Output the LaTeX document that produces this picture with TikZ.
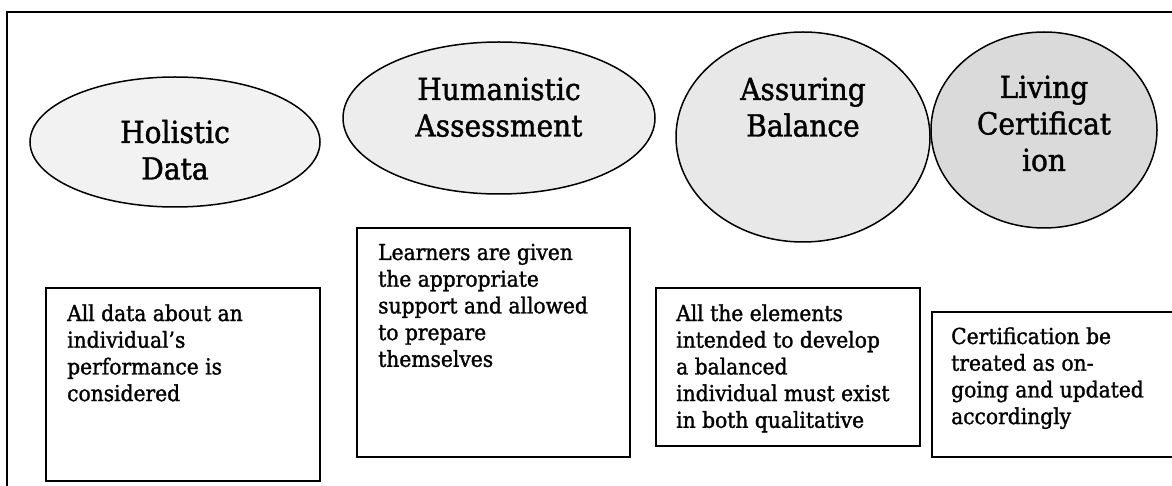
\documentclass[tikz,border=0pt]{standalone}
\usepackage{fontspec}
\setmainfont{DejaVu Serif}[FakeStretch=0.92, FakeBold=1.3]
\usetikzlibrary{shapes.geometric}
\definecolor{holisticfill}{HTML}{F2F2F2}
\definecolor{humanfill}{HTML}{EDEDED}
\definecolor{balancefill}{HTML}{E8E8E8}
\definecolor{livingfill}{HTML}{DADADA}
\tikzset{
  bubble/.style={ellipse, draw=black, line width=1.5pt, inner sep=0pt, outer sep=0pt},
  notebox/.style={draw=black, line width=2pt, inner sep=0pt, outer sep=0pt, anchor=north west},
  bubbletext/.style={anchor=base, inner sep=0pt, font=\fontsize{30.5}{36.5}\selectfont},
  notetext/.style={anchor=base west, inner sep=0pt, font=\fontsize{22}{26.7}\selectfont},
}
\begin{document}
\begin{tikzpicture}[x=1pt,y=-1pt]
\useasboundingbox (0,0) rectangle (1172,486);
\clip (0,0) rectangle (1172,486);
\fill[white] (0,0) rectangle (1172,486);
% outer frame, running off the right and bottom edges
\draw[line width=2pt] (7,12) rectangle (1200,520);

% headline bubbles
\node[bubble, fill=holisticfill, minimum width=290pt, minimum height=130pt] (holistic) at (175,142) {};
\node[bubble, fill=humanfill, minimum width=312pt, minimum height=152pt] (humanistic) at (499,118) {};
\node[bubble, fill=balancefill, minimum width=254pt, minimum height=210pt] (balance) at (803,137) {};
\node[bubble, fill=livingfill, minimum width=226pt, minimum height=196pt] (living) at (1044,130) {};

\node[bubbletext] (holisticlabel) at (175,143) {\begin{tabular}[t]{@{}c@{}}Holistic\\Data\end{tabular}};
\node[bubbletext] (humanisticlabel) at (499,100) {\begin{tabular}[t]{@{}c@{}}Humanistic\\Assessment\end{tabular}};
\node[bubbletext] (balancelabel) at (803,100) {\begin{tabular}[t]{@{}c@{}}Assuring\\Balance\end{tabular}};
\node[bubbletext] (livinglabel) at (1044,98) {\begin{tabular}[t]{@{}c@{}}Living\\Certificat\\ion\end{tabular}};

% description boxes
\node[notebox, minimum width=273.5pt, minimum height=193pt] (holisticbox) at (46,288) {};
\node[notebox, minimum width=273pt, minimum height=229pt] (humanisticbox) at (357,228) {};
\node[notebox, minimum width=264pt, minimum height=158pt] (balancebox) at (656,288) {};
\node[notebox, minimum width=268pt, minimum height=145pt] (livingbox) at (932,312) {};

\node[notetext] (holistictext) at (67,321) {\begin{tabular}[t]{@{}l@{}}All data about an\\individual’s\\performance is\\considered\end{tabular}};
\node[notetext] (humanistictext) at (378,260) {\begin{tabular}[t]{@{}l@{}}Learners are given\\the appropriate\\support and allowed\\to prepare\\themselves\end{tabular}};
\node[notetext] (balancetext) at (676,321) {\begin{tabular}[t]{@{}l@{}}All the elements\\intended to develop\\a balanced\\individual must exist\\in both qualitative\end{tabular}};
\node[notetext] (livingtext) at (951,344) {\begin{tabular}[t]{@{}l@{}}Certification be\\treated as on-\\going and updated\\accordingly\end{tabular}};
\end{tikzpicture}
\end{document}
